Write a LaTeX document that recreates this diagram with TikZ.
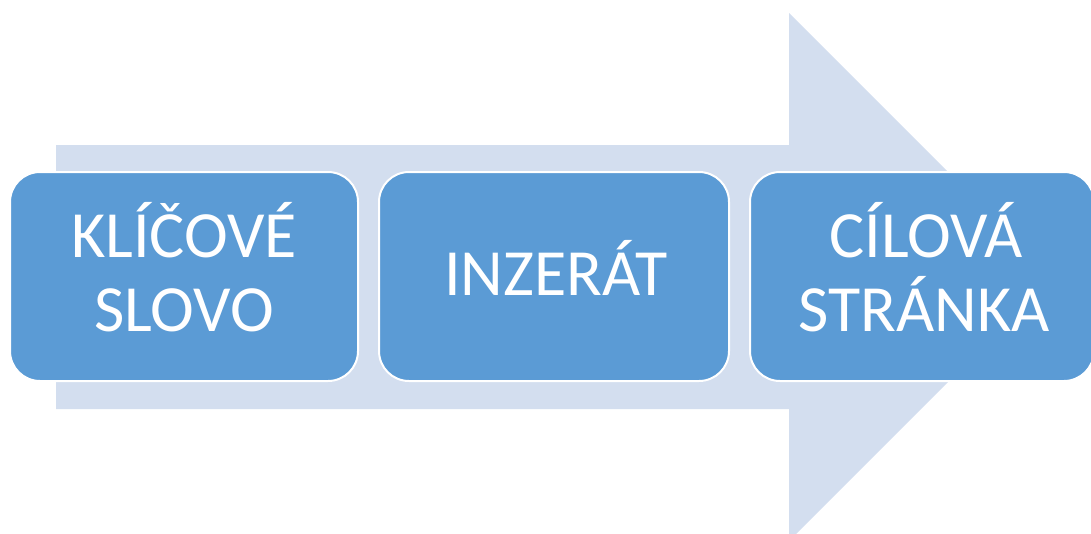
\documentclass[tikz,border=0pt]{standalone}
\usepackage{fontspec}
\setmainfont{Carlito}
\definecolor{arrowfill}{HTML}{D3DEEF}
\definecolor{boxfill}{HTML}{5B9BD5}
\tikzset{
  stepbox/.style={draw=white, line width=2pt, fill=boxfill, rounded corners=30pt,
    minimum height=209pt, inner sep=0pt},
  steptext/.style={text=white, font=\fontsize{66}{66}\selectfont, inner sep=0pt, anchor=base},
}
\begin{document}
\begin{tikzpicture}[x=1pt,y=-1pt]
\useasboundingbox (0,0) rectangle (1091,533);
\clip (0,0) rectangle (1091,533);
\fill[arrowfill] (56,145) -- (789,145) -- (789,13) -- (1053,277) -- (789,541) -- (789,409) -- (56,409) -- cycle;
\node[stepbox, minimum width=348pt] (kw) at (184,276.5) {};
\node[stepbox, minimum width=350pt] (ad) at (554,276.5) {};
\node[stepbox, minimum width=344pt] (lp) at (922,276.5) {};
\node[steptext] (kw1) at (184,257) {KLÍČOVÉ};
\node[steptext] (kw2) at (184,331) {SLOVO};
\node[steptext] (ad1) at (556,295) {INZERÁT};
\node[steptext] (lp1) at (926,257) {CÍLOVÁ};
\node[steptext] (lp2) at (924,331) {STRÁNKA};
\end{tikzpicture}
\end{document}
